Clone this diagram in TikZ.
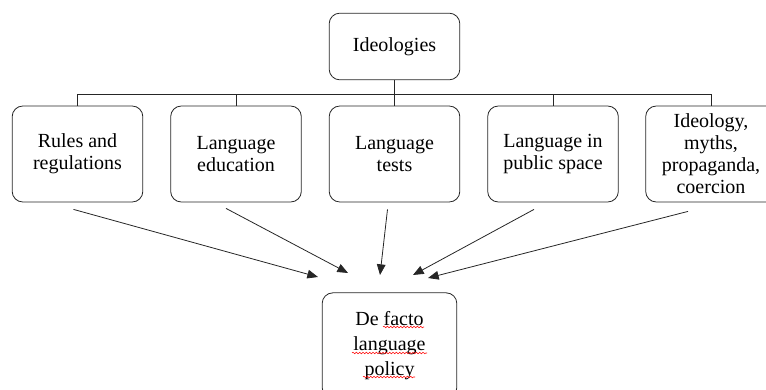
\documentclass[tikz,border=0pt]{standalone}
\usepackage{fontspec}
\setmainfont{Liberation Serif}
\usetikzlibrary{arrows.meta,decorations.pathmorphing}
\tikzset{
  box/.style={draw=black!85, rounded corners=8pt, line width=0.6pt, align=center,
    minimum width=98pt, minimum height=72pt, inner sep=2pt,
    font=\fontsize{15}{16.5}\selectfont},
  feed/.style={-{Triangle[length=8pt,width=6.5pt]}, line width=0.6pt, draw=black!85},
  spell/.style={red, line width=0.4pt, decorate,
    decoration={snake,amplitude=0.6pt,segment length=2.5pt}},
}
\begin{document}
\begin{tikzpicture}[x=0.75pt,y=-0.75pt]
  \useasboundingbox (0,0) rectangle (766,389);
  \clip (0,0) rectangle (766,389);
  % top
  \node[box, minimum height=50pt] (ideo) at (394.5,46.5) {Ideologies};
  % middle row
  \node[box] (rules)  at (77.5,154)  {Rules and\\regulations};
  \node[box] (educ)   at (236,154)   {Language\\education};
  \node[box] (tests)  at (394.5,154) {Language\\tests};
  \node[box] (public) at (553,154)   {Language in\\public space};
  \node[box] (myths)  at (711,154)   {Ideology,\\myths,\\propaganda,\\coercion};
  % bottom
  \node[box, minimum width=101pt, minimum height=79pt, font=\fontsize{15}{19}\selectfont]
    (policy) at (389.5,345.5) {De facto\\language\\policy};
  % spell-check marks under the words
  \draw[spell] ([shift={(-6.5,-18.5)}]policy.center) -- ++(41,0);
  \draw[spell] ([shift={(-37.5,7.5)}]policy.center) -- ++(75,0);
  \draw[spell] ([shift={(-26.5,31.5)}]policy.center) -- ++(52,0);
  % tree
  \foreach \n in {rules,educ,tests,public,myths}
    \draw[line width=0.6pt, black!85] (ideo.south) -- ++(0,14) -| (\n.north);
  % arrow tips
  \coordinate (tip1) at (318,277);
  \coordinate (tip2) at (348,273);
  \coordinate (tip3) at (380,275);
  \coordinate (tip4) at (413,275);
  \coordinate (tip5) at (428,278);
  \draw[feed] ([shift={(-4,7)}]rules.south) -- (tip1);
  \draw[feed] ([shift={(-10,6)}]educ.south) -- (tip2);
  \draw[feed] ([shift={(-7,7)}]tests.south) -- (tip3);
  \draw[feed] ([shift={(-19,7)}]public.south) -- (tip4);
  \draw[feed] ([shift={(-23,9)}]myths.south) -- (tip5);
\end{tikzpicture}
\end{document}
